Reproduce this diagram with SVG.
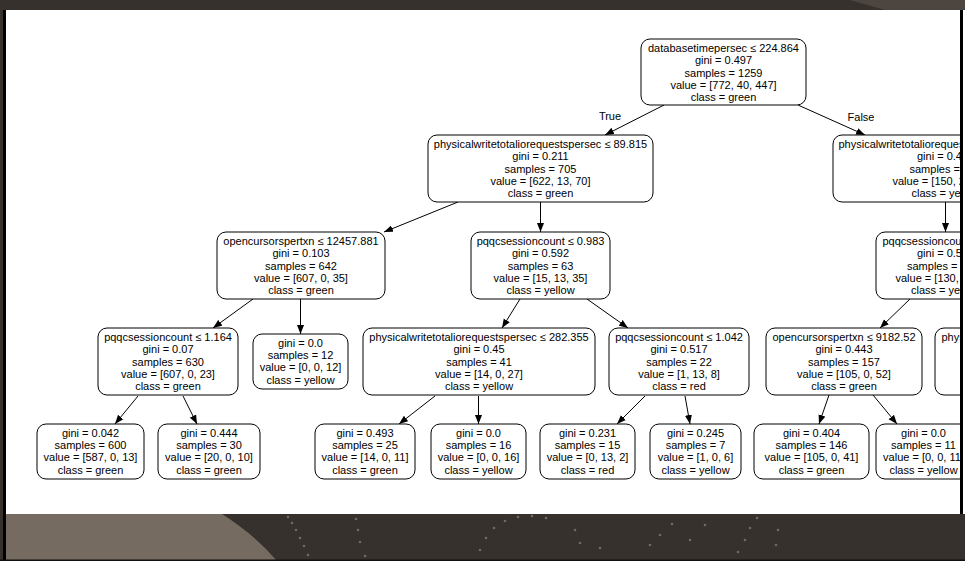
<svg xmlns="http://www.w3.org/2000/svg" width="965" height="561" viewBox="0 0 965 561">
<style>
.n rect{fill:#fff;stroke:#000;stroke-width:1}
text{font-family:"Liberation Sans",Arial,Helvetica,sans-serif;font-size:11px;fill:#000;text-anchor:middle}
.s{text-anchor:start}
.e line{stroke:#000;stroke-width:1;marker-end:url(#ah)}
.dot{fill:#6f6a65}
</style>
<defs>
<marker id="ah" markerUnits="userSpaceOnUse" markerWidth="10" markerHeight="8" refX="9" refY="4" orient="auto"><path d="M0,0.5 L9,4 L0,7.5 z" fill="#000"/></marker>
<clipPath id="cp"><rect x="6" y="10" width="954" height="504"/></clipPath>
</defs>
<g id="background">
<rect x="0" y="0" width="965" height="561" fill="#36312d"/>
<path d="M850,0 L965,0 L965,10 L885,10 Z" fill="#4d4640"/>
<path d="M6,514 L222,514 Q255,535 277,561 L6,561 Z" fill="#766b61"/>
<g class="dot">
<circle cx="288" cy="517" r="1.3"/><circle cx="292" cy="523" r="1.3"/><circle cx="296" cy="530" r="1.3"/><circle cx="300" cy="538" r="1.3"/><circle cx="304" cy="546" r="1.3"/><circle cx="308" cy="555" r="1.3"/>
<circle cx="356" cy="519" r="1.3"/><circle cx="358" cy="530" r="1.3"/><circle cx="360" cy="542" r="1.3"/><circle cx="365" cy="556" r="1.3"/>
<circle cx="480" cy="550" r="1.3"/><circle cx="486" cy="538" r="1.3"/><circle cx="494" cy="528" r="1.3"/><circle cx="505" cy="521" r="1.3"/><circle cx="518" cy="517" r="1.3"/><circle cx="532" cy="516" r="1.3"/><circle cx="546" cy="518" r="1.3"/><circle cx="575" cy="530" r="1.3"/><circle cx="580" cy="543" r="1.3"/><circle cx="600" cy="548" r="1.3"/>
<circle cx="650" cy="545" r="1.3"/><circle cx="660" cy="535" r="1.3"/><circle cx="672" cy="524" r="1.3"/><circle cx="690" cy="540" r="1.3"/><circle cx="705" cy="525" r="1.3"/>
<circle cx="738" cy="552" r="1.3"/><circle cx="745" cy="540" r="1.3"/><circle cx="750" cy="528" r="1.3"/><circle cx="757" cy="518" r="1.3"/><circle cx="778" cy="530" r="1.3"/><circle cx="776" cy="545" r="1.3"/>
</g>
<rect x="6" y="10" width="954" height="504" fill="#fff"/>
<rect x="3" y="10" width="3" height="551" fill="#000"/>
<rect x="960" y="10" width="3" height="504" fill="#000"/>
<rect x="963" y="10" width="2" height="504" fill="#fff"/>
<rect x="0" y="559.5" width="965" height="1.5" fill="#111"/>
</g>
<g clip-path="url(#cp)">
<g id="edges" class="e">
<line x1="664" y1="105" x2="605" y2="135"/>
<line x1="798" y1="105" x2="865" y2="135"/>
<line x1="458" y1="202" x2="384" y2="232"/>
<line x1="540.5" y1="202" x2="540.5" y2="232"/>
<line x1="945.5" y1="202" x2="945.5" y2="232"/>
<line x1="253" y1="299" x2="213" y2="328"/>
<line x1="300.5" y1="299" x2="300.5" y2="334"/>
<line x1="520" y1="299" x2="502" y2="328"/>
<line x1="587" y1="299" x2="628" y2="328"/>
<line x1="910" y1="299" x2="880" y2="328"/>
<line x1="138" y1="396" x2="115" y2="424"/>
<line x1="183" y1="396" x2="197" y2="424"/>
<line x1="435" y1="396" x2="399" y2="424"/>
<line x1="478.5" y1="396" x2="478.5" y2="424"/>
<line x1="645" y1="396" x2="617" y2="424"/>
<line x1="685" y1="396" x2="690" y2="424"/>
<line x1="829" y1="395" x2="819" y2="424"/>
<line x1="873" y1="395" x2="897" y2="424"/>
<text x="610" y="120">True</text>
<text x="861" y="121">False</text>
</g>
<g id="n0" class="n"><rect x="641" y="39" width="165" height="66" rx="9"/>
<text x="723.5" y="52.3">databasetimepersec ≤ 224.864</text><text x="723.5" y="64.4">gini = 0.497</text><text x="723.5" y="76.5">samples = 1259</text><text x="723.5" y="88.6">value = [772, 40, 447]</text><text x="723.5" y="100.7">class = green</text></g>
<g id="n1" class="n"><rect x="428" y="135" width="225" height="67" rx="9"/>
<text x="540.5" y="148.3">physicalwritetotaliorequestspersec ≤ 89.815</text><text x="540.5" y="160.4">gini = 0.211</text><text x="540.5" y="172.5">samples = 705</text><text x="540.5" y="184.6">value = [622, 13, 70]</text><text x="540.5" y="196.7">class = green</text></g>
<g id="n2" class="n"><rect x="833" y="135" width="225" height="67" rx="9"/>
<text class="s" x="838.5" y="148.3">physicalwritetotalioreques</text><text class="s" x="917" y="160.4">gini = 0.4</text><text class="s" x="909.5" y="172.5">samples =</text><text class="s" x="892.5" y="184.6">value = [150, 2</text><text class="s" x="911.5" y="196.7">class = yel</text></g>
<g id="n3" class="n"><rect x="217" y="232" width="168" height="67" rx="9"/>
<text x="301" y="245.3">opencursorspertxn ≤ 12457.881</text><text x="301" y="257.4">gini = 0.103</text><text x="301" y="269.5">samples = 642</text><text x="301" y="281.6">value = [607, 0, 35]</text><text x="301" y="293.7">class = green</text></g>
<g id="n4" class="n"><rect x="471" y="232" width="139" height="67" rx="9"/>
<text x="540.5" y="245.3">pqqcsessioncount ≤ 0.983</text><text x="540.5" y="257.4">gini = 0.592</text><text x="540.5" y="269.5">samples = 63</text><text x="540.5" y="281.6">value = [15, 13, 35]</text><text x="540.5" y="293.7">class = yellow</text></g>
<g id="n5" class="n"><rect x="876" y="232" width="139" height="67" rx="9"/>
<text class="s" x="882.5" y="245.3">pqqcsessioncou</text><text class="s" x="917" y="257.4">gini = 0.5</text><text class="s" x="907" y="269.5">samples =</text><text class="s" x="895.5" y="281.6">value = [130,</text><text class="s" x="911" y="293.7">class = yel</text></g>
<g id="n6" class="n"><rect x="98" y="328" width="140" height="67" rx="9"/>
<text x="168" y="341.3">pqqcsessioncount ≤ 1.164</text><text x="168" y="353.4">gini = 0.07</text><text x="168" y="365.5">samples = 630</text><text x="168" y="377.6">value = [607, 0, 23]</text><text x="168" y="389.7">class = green</text></g>
<g id="n7" class="n"><rect x="253" y="334" width="95" height="55" rx="9"/>
<text x="300.5" y="347.2">gini = 0.0</text><text x="300.5" y="359.3">samples = 12</text><text x="300.5" y="371.4">value = [0, 0, 12]</text><text x="300.5" y="383.5">class = yellow</text></g>
<g id="n8" class="n"><rect x="363" y="328" width="232" height="67" rx="9"/>
<text x="479" y="341.3">physicalwritetotaliorequestspersec ≤ 282.355</text><text x="479" y="353.4">gini = 0.45</text><text x="479" y="365.5">samples = 41</text><text x="479" y="377.6">value = [14, 0, 27]</text><text x="479" y="389.7">class = yellow</text></g>
<g id="n9" class="n"><rect x="609" y="328" width="140" height="67" rx="9"/>
<text x="679" y="341.3">pqqcsessioncount ≤ 1.042</text><text x="679" y="353.4">gini = 0.517</text><text x="679" y="365.5">samples = 22</text><text x="679" y="377.6">value = [1, 13, 8]</text><text x="679" y="389.7">class = red</text></g>
<g id="n10" class="n"><rect x="766" y="328" width="156" height="67" rx="9"/>
<text x="844" y="341.3">opencursorspertxn ≤ 9182.52</text><text x="844" y="353.4">gini = 0.443</text><text x="844" y="365.5">samples = 157</text><text x="844" y="377.6">value = [105, 0, 52]</text><text x="844" y="389.7">class = green</text></g>
<g id="n11" class="n"><rect x="935" y="328" width="140" height="67" rx="9"/>
<text class="s" x="941.5" y="341.3">phys</text></g>
<g id="n12" class="n"><rect x="37" y="424" width="107" height="55" rx="9"/>
<text x="90.5" y="437.2">gini = 0.042</text><text x="90.5" y="449.3">samples = 600</text><text x="90.5" y="461.4">value = [587, 0, 13]</text><text x="90.5" y="473.5">class = green</text></g>
<g id="n13" class="n"><rect x="158" y="424" width="102" height="55" rx="9"/>
<text x="209" y="437.2">gini = 0.444</text><text x="209" y="449.3">samples = 30</text><text x="209" y="461.4">value = [20, 0, 10]</text><text x="209" y="473.5">class = green</text></g>
<g id="n14" class="n"><rect x="315" y="424" width="100" height="55" rx="9"/>
<text x="365" y="437.2">gini = 0.493</text><text x="365" y="449.3">samples = 25</text><text x="365" y="461.4">value = [14, 0, 11]</text><text x="365" y="473.5">class = green</text></g>
<g id="n15" class="n"><rect x="431" y="424" width="95" height="55" rx="9"/>
<text x="478.5" y="437.2">gini = 0.0</text><text x="478.5" y="449.3">samples = 16</text><text x="478.5" y="461.4">value = [0, 0, 16]</text><text x="478.5" y="473.5">class = yellow</text></g>
<g id="n16" class="n"><rect x="540" y="424" width="95" height="55" rx="9"/>
<text x="587.5" y="437.2">gini = 0.231</text><text x="587.5" y="449.3">samples = 15</text><text x="587.5" y="461.4">value = [0, 13, 2]</text><text x="587.5" y="473.5">class = red</text></g>
<g id="n17" class="n"><rect x="650" y="424" width="91" height="55" rx="9"/>
<text x="695.5" y="437.2">gini = 0.245</text><text x="695.5" y="449.3">samples = 7</text><text x="695.5" y="461.4">value = [1, 0, 6]</text><text x="695.5" y="473.5">class = yellow</text></g>
<g id="n18" class="n"><rect x="754" y="424" width="115" height="55" rx="9"/>
<text x="811.5" y="437.2">gini = 0.404</text><text x="811.5" y="449.3">samples = 146</text><text x="811.5" y="461.4">value = [105, 0, 41]</text><text x="811.5" y="473.5">class = green</text></g>
<g id="n19" class="n"><rect x="876" y="424" width="95" height="55" rx="9"/>
<text x="923.5" y="437.2">gini = 0.0</text><text x="923.5" y="449.3">samples = 11</text><text x="923.5" y="461.4">value = [0, 0, 11]</text><text x="923.5" y="473.5">class = yellow</text></g>
</g>
</svg>
